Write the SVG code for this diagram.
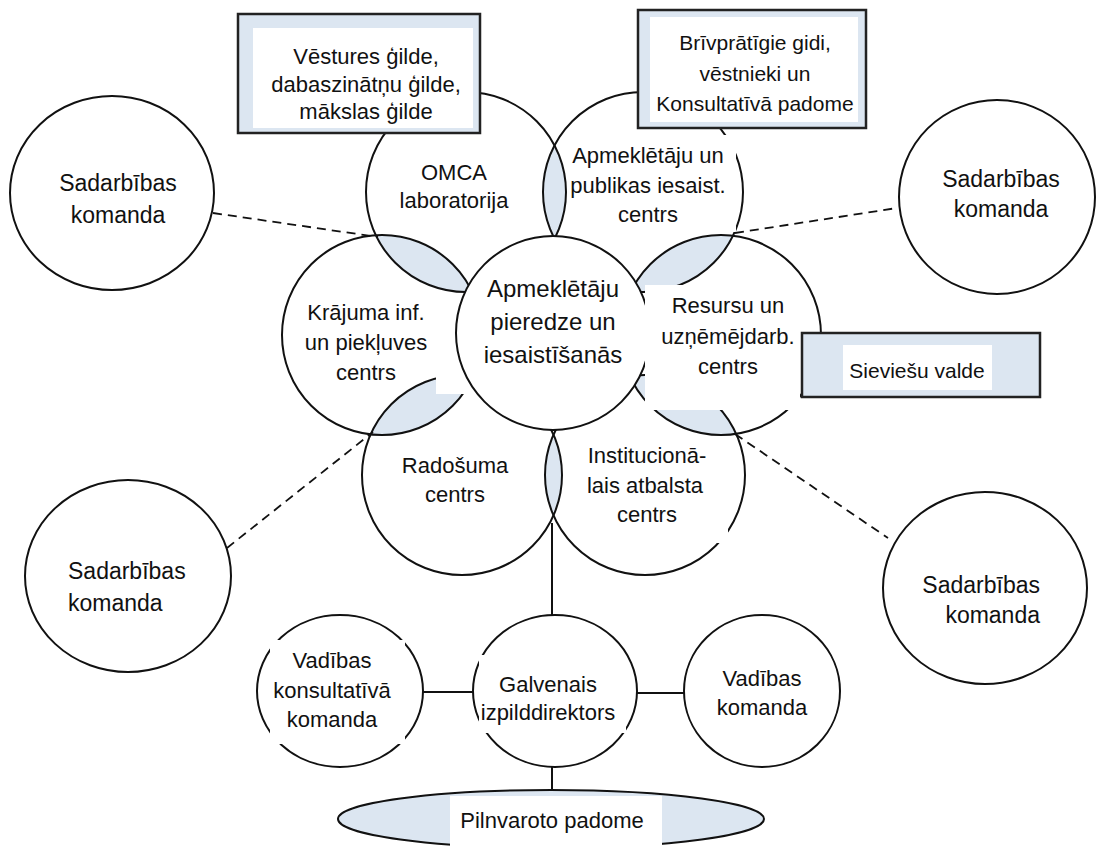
<svg xmlns="http://www.w3.org/2000/svg" width="1097" height="849" viewBox="0 0 1097 849">
<style>
text{font-family:"Liberation Sans",Arial,sans-serif;font-size:22px;fill:#111;text-anchor:middle}
.c{fill:none;stroke:#111;stroke-width:2}
.cw{fill:#fff;stroke:#111;stroke-width:2}
.lens{fill:#dce6f1}
.wh{fill:#fff}
.box{fill:#dce6f1;stroke:#222;stroke-width:2.5}
.ln{stroke:#111;stroke-width:2;fill:none}
.dash{stroke:#111;stroke-width:1.8;stroke-dasharray:9 6;fill:none}
</style>
<defs>
<clipPath id="cOMCA"><circle cx="466" cy="192" r="100"/></clipPath>
<clipPath id="cApm"><circle cx="643" cy="192" r="100"/></clipPath>
<clipPath id="cKra"><circle cx="382" cy="335" r="100"/></clipPath>
<clipPath id="cRes"><circle cx="721" cy="335" r="100"/></clipPath>
<clipPath id="cRad"><circle cx="462" cy="475" r="100"/></clipPath>
<clipPath id="cIns"><circle cx="645" cy="475" r="100"/></clipPath>
</defs>

<g id="lenses">
<circle class="lens" cx="466" cy="192" r="100" clip-path="url(#cApm)"/>
<circle class="lens" cx="466" cy="192" r="100" clip-path="url(#cKra)"/>
<circle class="lens" cx="643" cy="192" r="100" clip-path="url(#cRes)"/>
<circle class="lens" cx="382" cy="335" r="100" clip-path="url(#cRad)"/>
<circle class="lens" cx="721" cy="335" r="100" clip-path="url(#cIns)"/>
<circle class="lens" cx="462" cy="475" r="100" clip-path="url(#cIns)"/>
</g>

<g id="omca"><circle class="c" cx="466" cy="192" r="100"/></g>
<g id="apmeklētāju-centrs"><circle class="c" cx="643" cy="192" r="100"/></g>
<g id="krajuma"><circle class="c" cx="382" cy="335" r="100"/></g>
<g id="resursu"><circle class="c" cx="721" cy="335" r="100"/></g>
<g id="radosuma"><circle class="c" cx="462" cy="475" r="100"/></g>
<g id="institucionalais"><circle class="c" cx="645" cy="475" r="100"/></g>

<rect class="wh" x="436" y="340" width="36" height="54"/>

<g id="centrs"><circle class="cw" cx="553" cy="333" r="97"/></g>

<g id="occluders">
<rect class="wh" x="567" y="135" width="169" height="97"/>
<rect class="wh" x="645" y="285" width="155" height="125"/>
<rect class="wh" x="578" y="440" width="150" height="103"/>
</g>

<g id="box-gildes">
<rect class="box" x="238" y="14" width="242" height="119"/>
<rect class="wh" x="253" y="28" width="220" height="100"/>
</g>
<g id="box-brivpratigie">
<rect class="box" x="638" y="10" width="228" height="118"/>
<rect class="wh" x="650" y="17" width="208" height="105"/>
</g>
<g id="box-sievieshu">
<rect class="box" x="802" y="333" width="238" height="64"/>
<rect class="wh" x="843" y="345" width="149" height="45"/>
</g>

<g id="sadarbibas-tl"><ellipse class="c" cx="112" cy="193" rx="102" ry="97"/></g>
<g id="sadarbibas-tr"><ellipse class="c" cx="997" cy="197" rx="98" ry="97"/></g>
<g id="sadarbibas-bl"><ellipse class="c" cx="128" cy="576" rx="103" ry="96"/></g>
<g id="sadarbibas-br"><ellipse class="c" cx="985" cy="588" rx="102" ry="96"/></g>

<g id="connectors">
<line class="dash" x1="213" y1="213" x2="378" y2="237"/>
<line class="dash" x1="735" y1="233" x2="897" y2="208"/>
<line class="dash" x1="227" y1="548" x2="373" y2="432"/>
<line class="dash" x1="735" y1="434" x2="888" y2="538"/>
<line class="ln" x1="552" y1="523" x2="552" y2="615"/>
<line class="ln" x1="423" y1="692" x2="473" y2="692"/>
<line class="ln" x1="637" y1="693" x2="684" y2="693"/>
<line class="ln" x1="552" y1="767" x2="552" y2="791"/>
</g>

<g id="vadibas-konsultativa">
<ellipse class="c" cx="340" cy="691" rx="83" ry="76"/>
<rect class="wh" x="270" y="640" width="135" height="104"/>
</g>
<g id="galvenais">
<ellipse class="c" cx="555" cy="691" rx="82" ry="76"/>
<rect class="wh" x="479" y="655" width="147" height="78"/>
</g>
<g id="vadibas-komanda">
<ellipse class="c" cx="762" cy="691" rx="78" ry="76"/>
</g>
<g id="pilnvaroto">
<ellipse cx="551" cy="819" rx="213" ry="29" fill="#dce6f1" stroke="#111" stroke-width="2"/>
<rect class="wh" x="450" y="796" width="212" height="53"/>
</g>

<g id="labels">
<text x="366" y="64">Vēstures ģilde,</text>
<text x="366" y="92">dabaszinātņu ģilde,</text>
<text x="366" y="119">mākslas ģilde</text>
<text x="755" y="50" style="font-size:21px">Brīvprātīgie gidi,</text>
<text x="755" y="81" style="font-size:21px">vēstnieki un</text>
<text x="755" y="111" style="font-size:21px">Konsultatīvā padome</text>
<text x="917" y="378" style="font-size:21px">Sieviešu valde</text>
<text x="454" y="180">OMCA</text>
<text x="454" y="208">laboratorija</text>
<text x="648" y="163">Apmeklētāju un</text>
<text x="648" y="193">publikas iesaist.</text>
<text x="648" y="222">centrs</text>
<text x="366" y="320">Krājuma inf.</text>
<text x="366" y="350">un piekļuves</text>
<text x="366" y="380">centrs</text>
<text x="553" y="297" style="font-size:24px">Apmeklētāju</text>
<text x="553" y="330" style="font-size:24px">pieredze un</text>
<text x="553" y="363" style="font-size:24px">iesaistīšanās</text>
<text x="728" y="313">Resursu un</text>
<text x="728" y="344">uzņēmējdarb.</text>
<text x="728" y="374">centrs</text>
<text x="455" y="473">Radošuma</text>
<text x="455" y="502">centrs</text>
<text x="647" y="463">Institucionā-</text>
<text x="645" y="493">lais atbalsta</text>
<text x="647" y="522">centrs</text>
<text x="118" y="191" style="font-size:23px">Sadarbības</text>
<text x="118" y="223" style="font-size:23px">komanda</text>
<text x="1001" y="187" style="font-size:23px">Sadarbības</text>
<text x="1001" y="217" style="font-size:23px">komanda</text>
<text x="68" y="579" style="font-size:23px;text-anchor:start">Sadarbības</text>
<text x="68" y="611" style="font-size:23px;text-anchor:start">komanda</text>
<text x="1040" y="593" style="font-size:23px;text-anchor:end">Sadarbības</text>
<text x="1040" y="623" style="font-size:23px;text-anchor:end">komanda</text>
<text x="332" y="668">Vadības</text>
<text x="332" y="698">konsultatīvā</text>
<text x="332" y="727">komanda</text>
<text x="548" y="692">Galvenais</text>
<text x="548" y="720">izpilddirektors</text>
<text x="762" y="686">Vadības</text>
<text x="762" y="715">komanda</text>
<text x="552" y="828">Pilnvaroto padome</text>
</g>
</svg>
